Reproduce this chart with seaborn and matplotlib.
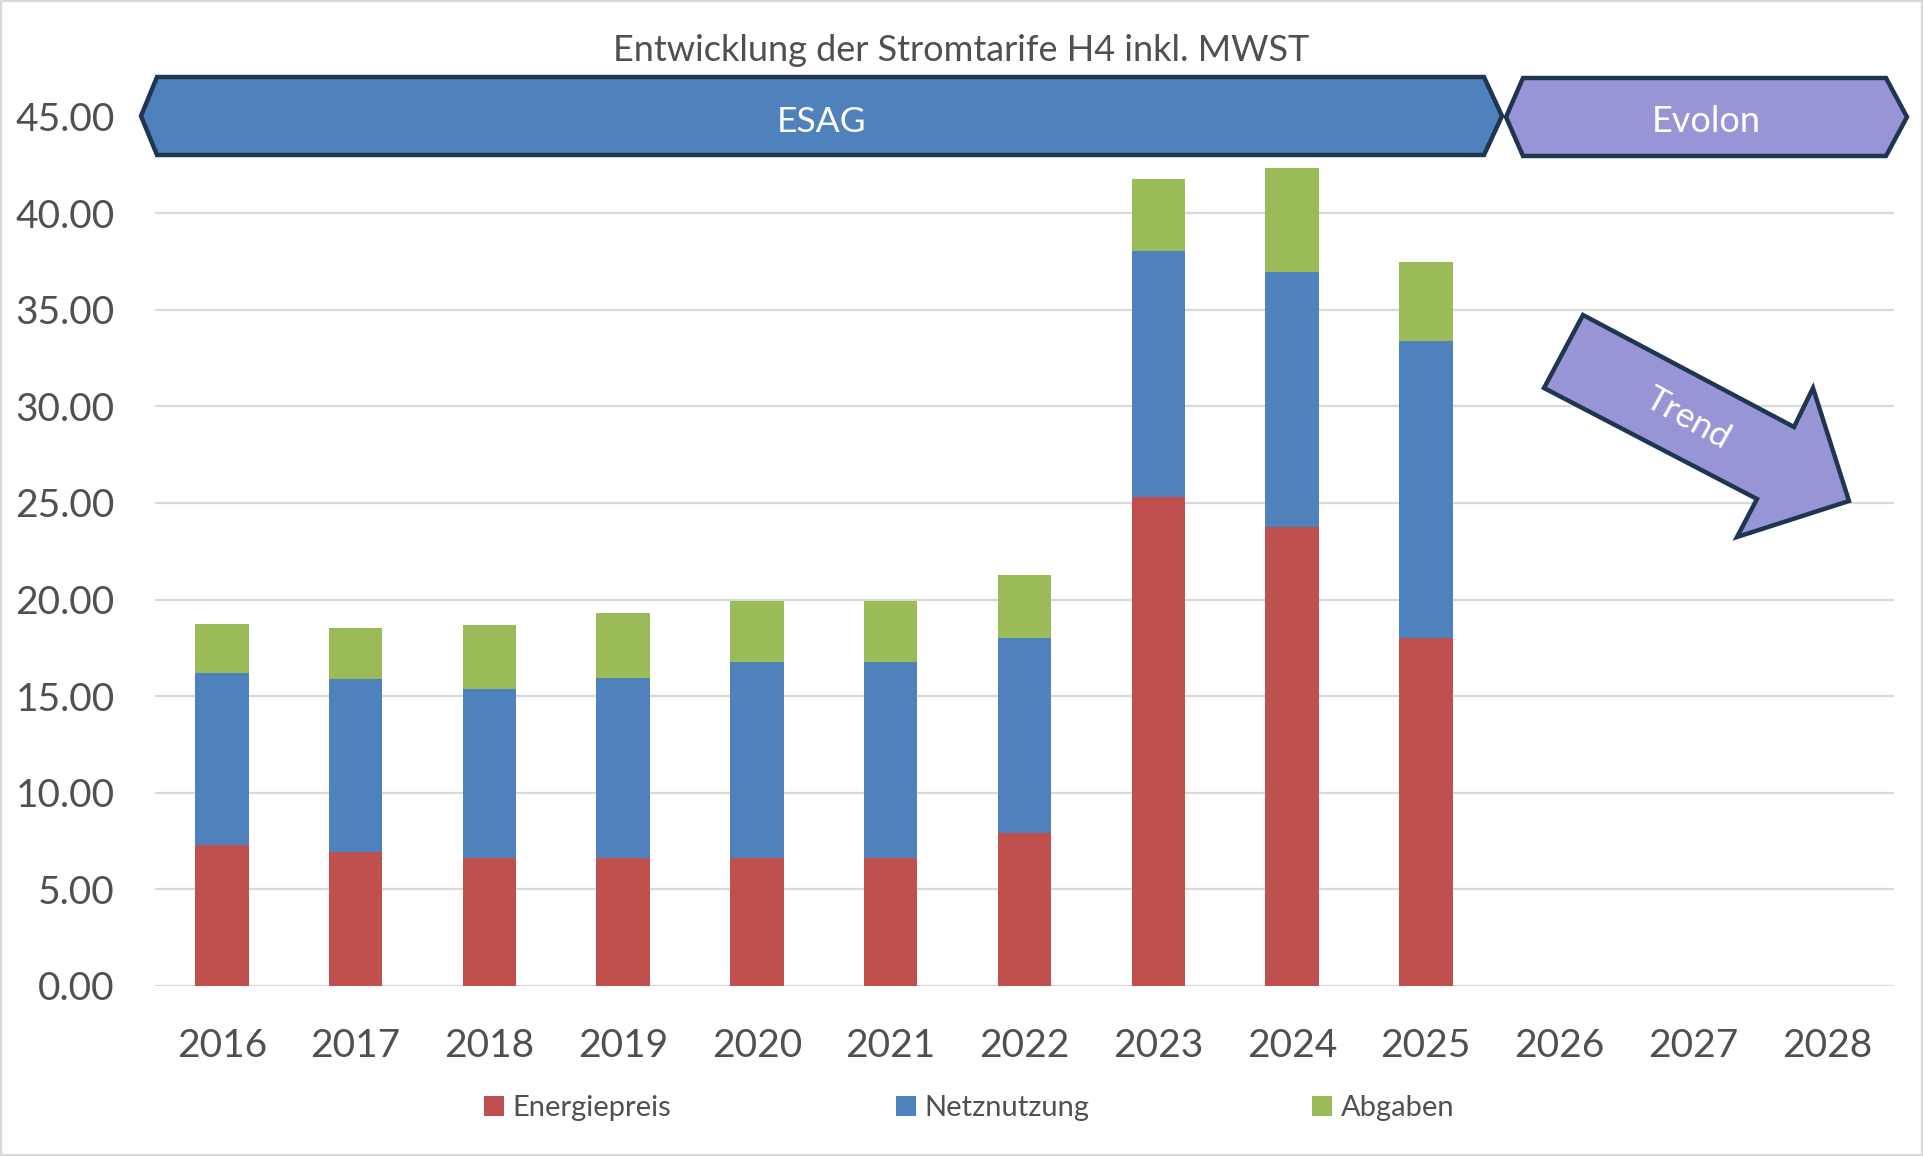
import numpy as np
import pandas as pd
import matplotlib
matplotlib.use("Agg")
import matplotlib.pyplot as plt
import seaborn as sns
from matplotlib.patches import Polygon, Rectangle, Patch

# ---------------- data ----------------
years = ["2016", "2017", "2018", "2019", "2020", "2021", "2022",
         "2023", "2024", "2025", "2026", "2027", "2028"]
data_years = ["2016", "2017", "2018", "2019", "2020", "2021", "2022",
              "2023", "2024", "2025"]
energiepreis = [7.28, 6.95, 6.62, 6.62, 6.62, 6.62, 7.91, 25.30, 23.76, 18.02]
netznutzung = [8.93, 8.93, 8.74, 9.33, 10.13, 10.13, 10.09, 12.72, 13.19, 15.36]
abgaben = [2.53, 2.66, 3.30, 3.33, 3.18, 3.18, 3.26, 3.76, 5.38, 4.11]
series_names = ["Energiepreis", "Netznutzung", "Abgaben"]
yticks = [0, 5, 10, 15, 20, 25, 30, 35, 40, 45]
title = "Entwicklung der Stromtarife H4 inkl. MWST"

RED, BLUE, GREEN = "#C0504D", "#4F81BD", "#9BBB59"
LAV = "#9795D5"
NAVY = "#1F3550"
TXT = "#505050"

sns.set_theme(style="white")
plt.rcParams["font.family"] = ["Lato", "DejaVu Sans"]

W, H = 1923, 1156
fig = plt.figure(figsize=(W / 100, H / 100), dpi=100)
fig.patch.set_facecolor("white")

def fx(x):
    return x / W

def fy(y):
    return 1 - y / H

ax = fig.add_axes([fx(155), fy(986), (1894 - 155) / W, (986 - 116.5) / H])

df = pd.DataFrame({
    "Jahr": data_years,
    "Energiepreis": energiepreis,
    "Netznutzung": netznutzung,
    "Abgaben": abgaben,
})
df["cum_netz"] = df["Energiepreis"] + df["Netznutzung"]
df["cum_all"] = df["cum_netz"] + df["Abgaben"]

common = dict(data=df, x="Jahr", order=years, width=0.4, saturation=1,
              errorbar=None, ax=ax, linewidth=0)
sns.barplot(y="cum_all", color=GREEN, **common)
sns.barplot(y="cum_netz", color=BLUE, **common)
sns.barplot(y="Energiepreis", color=RED, **common)

ax.set_xlim(-0.5, len(years) - 0.5)
ax.set_ylim(0, 45)
ax.set_yticks(yticks)
ax.yaxis.set_major_formatter(matplotlib.ticker.FormatStrFormatter("%.2f"))
ax.set_xlabel("")
ax.set_ylabel("")
ax.grid(axis="y", color="#D9D9D9", linewidth=1.6)
ax.grid(axis="x", visible=False)
ax.set_axisbelow(True)
for s in ax.spines.values():
    s.set_visible(False)
ax.tick_params(axis="y", length=0, labelsize=28, labelcolor=TXT, pad=29)
ax.tick_params(axis="x", length=0, labelsize=28, labelcolor=TXT, pad=30)

# ---------------- title ----------------
fig.text(0.5, fy(61), title, ha="center", va="baseline", fontsize=26, color=TXT)

# ---------------- banners ----------------
esag = [(141, 116), (157, 77), (1484, 77), (1502, 116), (1484, 155), (157, 155)]
evolon = [(1506, 117), (1523, 78), (1886, 78), (1907, 117), (1886, 156), (1523, 156)]
for pts, fc in ((esag, BLUE), (evolon, LAV)):
    fig.add_artist(Polygon([(fx(x), fy(y)) for x, y in pts], closed=True,
                           transform=fig.transFigure, facecolor=fc,
                           edgecolor=NAVY, linewidth=3.2, joinstyle="miter",
                           zorder=5))
fig.text(fx(821), fy(132), "ESAG", ha="center", va="baseline",
         fontsize=25.5, color="white", zorder=6)
fig.text(fx(1706), fy(132), "Evolon", ha="center", va="baseline",
         fontsize=26, color="white", zorder=6)

# ---------------- trend arrow ----------------
arrow = [(1583, 315), (1794, 427), (1813, 388), (1849, 501),
         (1737, 537), (1757, 499), (1544, 388)]
fig.add_artist(Polygon([(fx(x), fy(y)) for x, y in arrow], closed=True,
                       transform=fig.transFigure, facecolor=LAV,
                       edgecolor=NAVY, linewidth=3.2, joinstyle="miter", zorder=5))
fig.text(fx(1688), fy(419), "Trend", ha="center", va="center",
         rotation=-29, rotation_mode="anchor", fontsize=25.5, color="white",
         zorder=6)

# ---------------- legend ----------------
colors = [RED, BLUE, GREEN]
leg_x = [484, 896, 1312]
for name, c, x in zip(series_names, colors, leg_x):
    leg = fig.legend(handles=[Patch(facecolor=c, edgecolor="none")],
                     labels=[name], loc="center left",
                     bbox_to_anchor=(fx(x), fy(1108)), frameon=False,
                     borderpad=0, borderaxespad=0, handlelength=0.68,
                     handleheight=0.7, handletextpad=0.3, fontsize=21)
    for t in leg.get_texts():
        t.set_color(TXT)

# ---------------- border ----------------
fig.add_artist(Rectangle((0, 0), 1, 1, transform=fig.transFigure, fill=False,
                         edgecolor="#D9D9D9", linewidth=3, zorder=10))

fig.savefig("out.png", dpi=100, facecolor="white")
